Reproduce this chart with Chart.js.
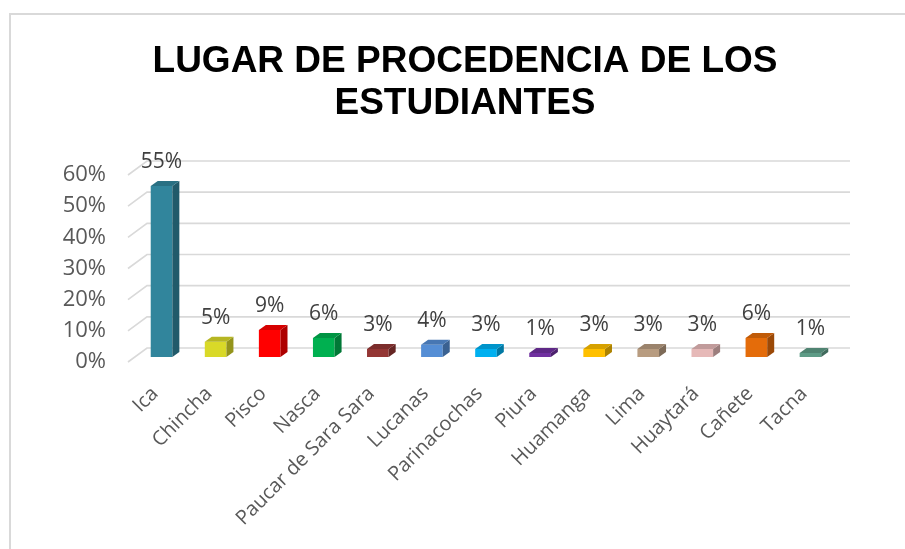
<!DOCTYPE html>
<html>
<head>
<meta charset="utf-8">
<script src="https://cdn.jsdelivr.net/npm/chart.js@4.4.0/dist/chart.umd.min.js"></script>
<style>
  body { margin: 0; background: #fff; }
  canvas { display: block; }
</style>
</head>
<body>
<canvas id="procedencia" width="905" height="549"></canvas>
<script>
const titleLines = ['LUGAR DE PROCEDENCIA DE LOS', 'ESTUDIANTES'];
const lugares = ['Ica', 'Chincha', 'Pisco', 'Nasca', 'Paucar de Sara Sara', 'Lucanas',
    'Parinacochas', 'Piura', 'Huamanga', 'Lima', 'Huaytará', 'Cañete', 'Tacna'];
const porcentajes = [0.549, 0.049, 0.087, 0.061, 0.026, 0.039, 0.026, 0.013, 0.026, 0.026, 0.026, 0.061, 0.013];
const yTicks = [0, 0.1, 0.2, 0.3, 0.4, 0.5, 0.6];

// colores de cada columna (cara frontal)
const colores = ['#31859C', '#D9D928', '#FF0000', '#00B050', '#943634', '#558ED5',
    '#00B0F0', '#7030A0', '#FFC000', '#B89C80', '#E6B9B8', '#E46C0A', '#5E9C87'];

const GRID = '#d9d9d9';
const TEXTO = '#595959';

function shade(hex, f) {
    const n = parseInt(hex.slice(1), 16);
    const r = Math.round(((n >> 16) & 255) * f);
    const g = Math.round(((n >> 8) & 255) * f);
    const b = Math.round((n & 255) * f);
    return `rgb(${r},${g},${b})`;
}

const pct = v => Math.round(v * 100) + '%';

// pared del fondo, marco y titulo
const fondo = {
    id: 'fondo',
    beforeDraw(chart) {
        const ctx = chart.ctx;
        ctx.save();
        ctx.strokeStyle = GRID;
        ctx.lineWidth = 2;
        ctx.beginPath();
        ctx.moveTo(10, chart.height);
        ctx.lineTo(10, 14);
        ctx.lineTo(chart.width, 14);
        ctx.stroke();

        ctx.fillStyle = '#000';
        ctx.font = 'bold 37px "Liberation Sans", Arial, sans-serif';
        ctx.textAlign = 'center';
        ctx.textBaseline = 'alphabetic';
        ctx.fillText(titleLines[0], 465, 72);
        ctx.fillText(titleLines[1], 465, 114);
        ctx.restore();
    },
    beforeDatasetsDraw(chart) {
        const ctx = chart.ctx;
        const y = chart.scales.y;
        const a = chart.chartArea;
        const dx = 19, dy = 14;
        ctx.save();
        ctx.strokeStyle = GRID;
        ctx.lineWidth = 1.6;
        yTicks.forEach(v => {
            const py = y.getPixelForValue(v);
            ctx.beginPath();
            ctx.moveTo(a.left, py);
            ctx.lineTo(a.left + dx, py - dy);
            ctx.lineTo(a.right + dx, py - dy);
            ctx.stroke();
        });
        ctx.restore();

        // las columnas quedan un poco hacia el fondo
        ctx.save();
        ctx.translate(6.5, -5);
    },
    afterDatasetsDraw(chart) {
        const ctx = chart.ctx;
        const meta = chart.getDatasetMeta(0);
        const dx = 7, dy = 5;
        meta.data.forEach((bar, i) => {
            const { x, y, base, width } = bar.getProps(['x', 'y', 'base', 'width'], true);
            const l = x - width / 2, r = x + width / 2;
            // cara lateral
            ctx.fillStyle = shade(colores[i], 0.68);
            ctx.beginPath();
            ctx.moveTo(r, y);
            ctx.lineTo(r + dx, y - dy);
            ctx.lineTo(r + dx, base - dy);
            ctx.lineTo(r, base);
            ctx.closePath();
            ctx.fill();
            // cara superior
            ctx.fillStyle = shade(colores[i], 0.84);
            ctx.beginPath();
            ctx.moveTo(l, y);
            ctx.lineTo(r, y);
            ctx.lineTo(r + dx, y - dy);
            ctx.lineTo(l + dx, y - dy);
            ctx.closePath();
            ctx.fill();
            // etiqueta
            ctx.fillStyle = '#404040';
            ctx.font = '21px "Open Sans", sans-serif';
            ctx.textAlign = 'center';
            ctx.textBaseline = 'alphabetic';
            ctx.fillText(pct(porcentajes[i]), x, y - dy - 13);
        });
        ctx.restore();
    }
};

new Chart(document.getElementById('procedencia'), {
    type: 'bar',
    data: {
        labels: lugares,
        datasets: [{
            data: porcentajes,
            backgroundColor: colores,
            borderWidth: 0,
            categoryPercentage: 1,
            barPercentage: 0.4
        }]
    },
    options: {
        responsive: false,
        animation: false,
        devicePixelRatio: 1,
        layout: { padding: { left: 10, right: 74, top: 175, bottom: 0 } },
        plugins: {
            legend: { display: false },
            title: { display: false },
            tooltip: { enabled: false }
        },
        scales: {
            y: {
                min: 0,
                max: 0.6,
                afterFit(s) { s.width = 118; },
                afterBuildTicks(s) { s.ticks = yTicks.map(v => ({ value: v })); },
                grid: { display: false, drawTicks: false },
                border: { display: false },
                ticks: {
                    padding: 22,
                    color: TEXTO,
                    font: { family: 'Open Sans', size: 22 },
                    callback: v => pct(v)
                }
            },
            x: {
                afterFit(s) { s.height = 187; },
                grid: { display: false, drawTicks: false },
                border: { display: false },
                ticks: {
                    autoSkip: false,
                    maxRotation: 45,
                    minRotation: 45,
                    padding: 20,
                    color: TEXTO,
                    font: { family: 'Open Sans', size: 20 }
                }
            }
        }
    },
    plugins: [fondo]
});
</script>
</body>
</html>
